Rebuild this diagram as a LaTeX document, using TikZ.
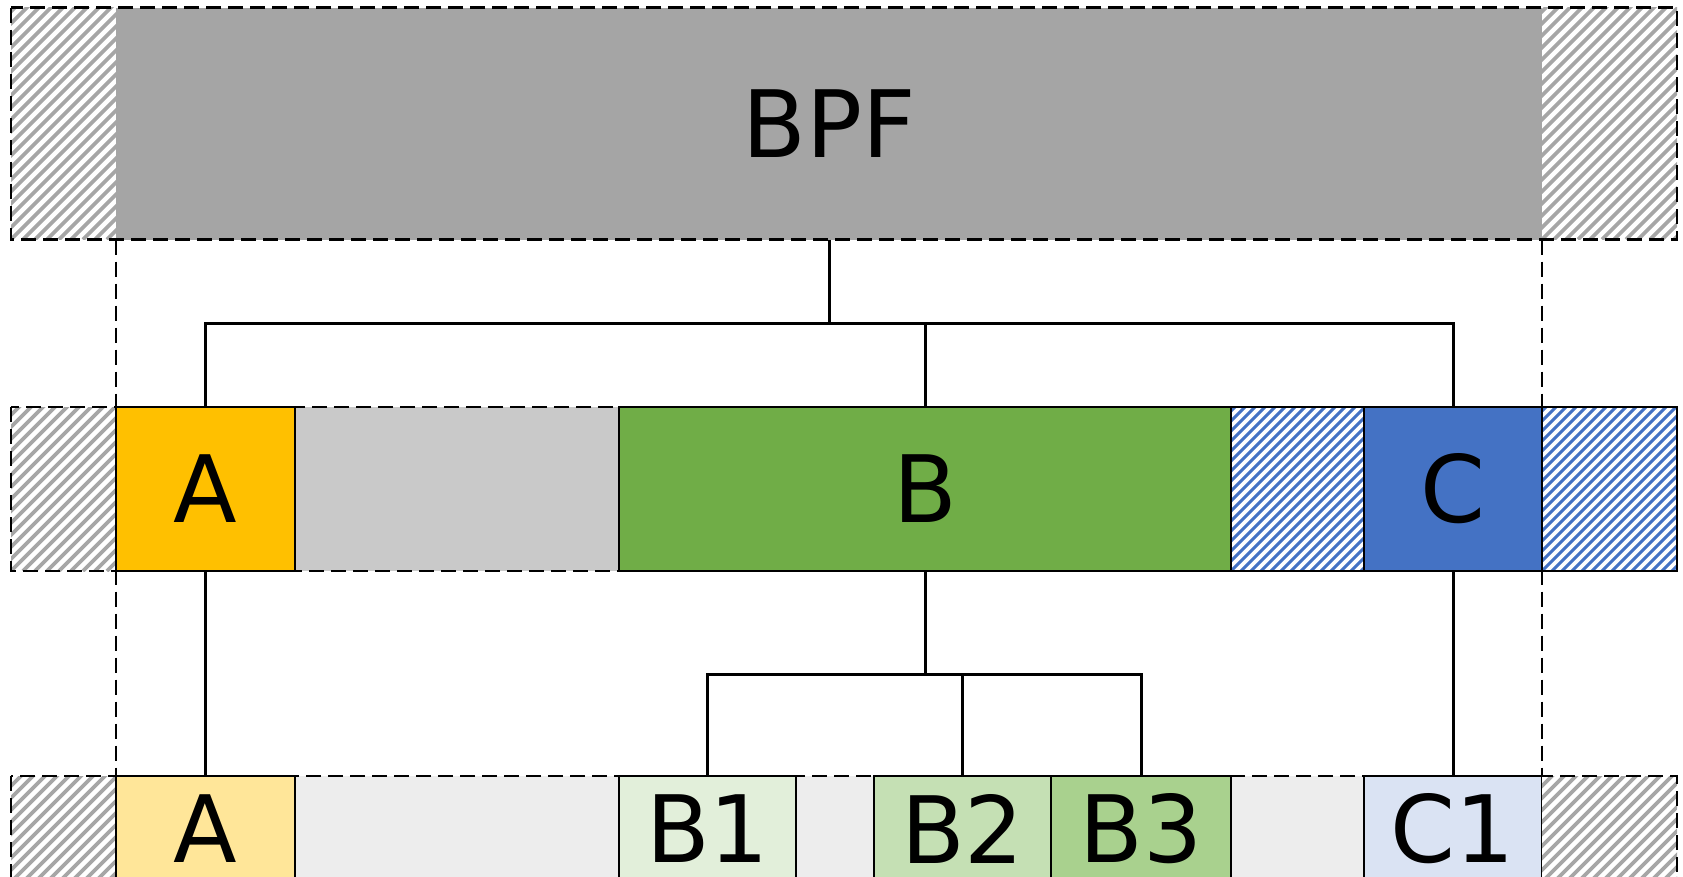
\documentclass[tikz,border=0pt]{standalone}
\usepackage{fontspec}
\setmainfont{DejaVu Sans}
\definecolor{bpfgray}{HTML}{A5A5A5}
\definecolor{midgray}{HTML}{C9C9C9}
\definecolor{lowgray}{HTML}{EDEDED}
\definecolor{hatchgray}{HTML}{A6A6A6}
\definecolor{aorange}{HTML}{FFC000}
\definecolor{bgreen}{HTML}{70AD47}
\definecolor{cblue}{HTML}{4472C4}
\definecolor{alight}{HTML}{FFE699}
\definecolor{bonelight}{HTML}{E2EFDA}
\definecolor{btwolight}{HTML}{C5E0B4}
\definecolor{bthreelight}{HTML}{A9D18E}
\definecolor{conelight}{HTML}{DAE3F3}
\tikzset{
  cell/.style={rectangle, inner sep=0pt, outer sep=0pt, draw=none,
    font=\fontsize{93}{100}\selectfont},
  framed/.style={cell, draw=black, line width=2pt},
  hatchgrayfill/.style={cell, fill=white,
    path picture={
      \foreach \k in {-300,-288,...,200}
        \draw[hatchgray, line width=3.8pt] (path picture bounding box.south west) ++(\k,0) -- ++(400,-400);
    }},
  hatchbluefill/.style={cell, fill=white,
    path picture={
      \foreach \k in {-300,-290,...,200}
        \draw[cblue, line width=3pt] (path picture bounding box.south west) ++(\k,0) -- ++(400,-400);
    }},
  dashline/.style={draw=black, line width=2.5pt, dash pattern=on 15pt off 7pt},
  conn/.style={draw=black, line width=3pt},
}
\begin{document}
\begin{tikzpicture}[x=1pt,y=-1pt]
\useasboundingbox (0,0) rectangle (1683,876);
\clip (0,0) rectangle (1683,876);
\fill[white] (0,0) rectangle (1683,876);

% top row
\node[hatchgrayfill, minimum width=105pt, minimum height=232pt] (tl) at (63.5,123.5) {};
\node[cell, fill=bpfgray, minimum width=1426pt, minimum height=232pt] (BPF) at (829,123.5) {BPF};
\node[hatchgrayfill, minimum width=135pt, minimum height=232pt] (tr) at (1609.5,123.5) {};

% middle row
\node[hatchgrayfill, minimum width=105pt, minimum height=164pt] (ml) at (63.5,489) {};
\node[cell, fill=midgray, minimum width=324pt, minimum height=164pt] (mg) at (457,489) {};
\node[framed, fill=aorange, minimum width=179pt, minimum height=164pt] (mA) at (205.5,489) {A};
\node[framed, fill=bgreen, minimum width=612pt, minimum height=164pt] (mB) at (925,489) {B};
\node[hatchbluefill, draw=black, line width=2pt, minimum width=133pt, minimum height=164pt] (mh) at (1297.5,489) {};
\node[framed, fill=cblue, minimum width=178pt, minimum height=164pt] (mC) at (1453,489) {C};
\node[hatchbluefill, draw=black, line width=2pt, minimum width=135pt, minimum height=164pt] (mr) at (1609.5,489) {};

% bottom row
\node[hatchgrayfill, minimum width=105pt, minimum height=106pt] (bl) at (63.5,829) {};
\node[cell, fill=lowgray, minimum width=324pt, minimum height=106pt] (bg1) at (457,829) {};
\node[cell, fill=lowgray, minimum width=78pt, minimum height=106pt] (bg2) at (835,829) {};
\node[cell, fill=lowgray, minimum width=133pt, minimum height=106pt] (bg3) at (1297.5,829) {};
\node[framed, fill=alight, minimum width=179pt, minimum height=106pt] (bA) at (205.5,829) {A};
\node[framed, fill=bonelight, minimum width=177pt, minimum height=106pt] (bB1) at (707.5,829) {B1};
\node[framed, fill=btwolight, minimum width=177pt, minimum height=106pt] (bB2) at (962.5,829) {B2};
\node[framed, fill=bthreelight, minimum width=180pt, minimum height=106pt] (bB3) at (1141,829) {B3};
\node[framed, fill=conelight, minimum width=178pt, minimum height=106pt] (bC1) at (1453,829) {C1};
\node[hatchgrayfill, minimum width=135pt, minimum height=106pt] (br) at (1609.5,829) {};

% dashed outlines
\draw[dashline] (tl.north west) rectangle (tr.south east);
\draw[dashline] (ml.north west) rectangle (mr.south east);
\draw[dashline] (bl.north west) rectangle (br.south east);
\draw[dashline] (BPF.south west) -- (bA.north west);
\draw[dashline] (BPF.south east) -- (bC1.north east);

% connectors
\coordinate (j1) at (829,323);
\coordinate (j2) at (925,674);
\draw[conn] (BPF.south) -- (j1);
\draw[conn] (mA.north) |- (j1) -| (mC.north);
\draw[conn] (mB.north) -- (mB.north |- j1);
\draw[conn] (mA.south) -- (bA.north);
\draw[conn] (mC.south) -- (bC1.north);
\draw[conn] (mB.south) -- (j2);
\draw[conn] (bB1.north) |- (j2) -| (bB3.north);
\draw[conn] (bB2.north) -- (bB2.north |- j2);
\end{tikzpicture}
\end{document}
